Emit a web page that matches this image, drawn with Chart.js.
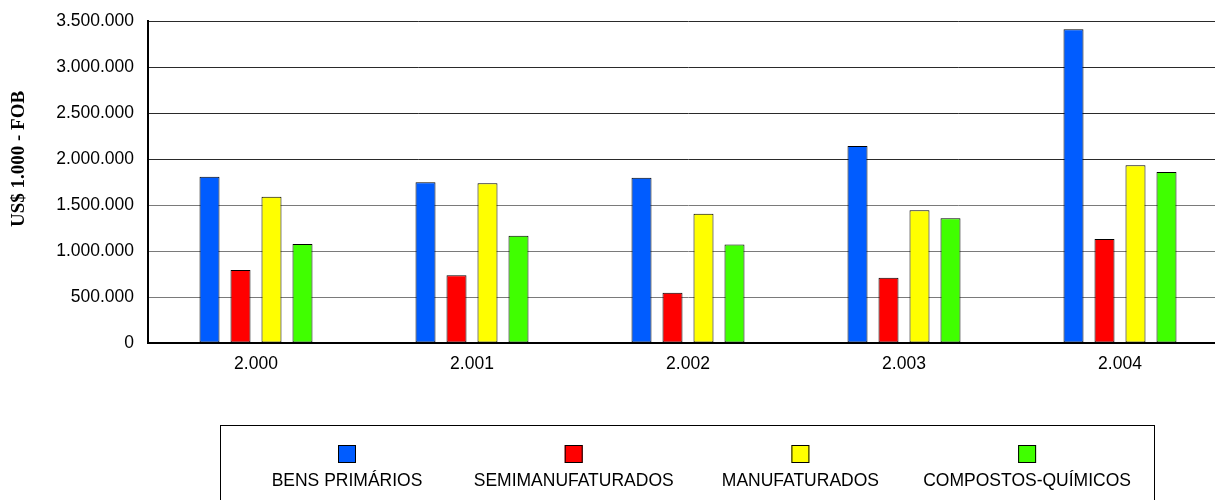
<!DOCTYPE html>
<html>
<head>
<meta charset="utf-8">
<script src="https://cdn.jsdelivr.net/npm/chart.js@4/dist/chart.umd.min.js"></script>
<style>
  html, body { margin: 0; padding: 0; background: #fff; overflow: hidden; }
  #wrap { width: 1230px; height: 500px; }
</style>
</head>
<body>
<div id="wrap"><canvas id="chart" width="1230" height="500"></canvas></div>
<script>
const years = ['2.000', '2.001', '2.002', '2.003', '2.004'];
const seriesNames = ['BENS PRIMÁRIOS', 'SEMIMANUFATURADOS', 'MANUFATURADOS', 'COMPOSTOS-QUÍMICOS'];
const bensPrimarios = [1808000, 1747000, 1797000, 2141000, 3410000];
const semimanufaturados = [793000, 736000, 547000, 710000, 1130000];
const manufaturados = [1590000, 1736000, 1406000, 1442000, 1931000];
const compostosQuimicos = [1076000, 1166000, 1072000, 1355000, 1859000];
const seriesColors = ['#005cff', '#ff0000', '#ffff00', '#40ff00'];
const yTicks = [0, 500000, 1000000, 1500000, 2000000, 2500000, 3000000, 3500000];
const yTitle = 'US$ 1.000 - FOB';

const sansFont = '"Liberation Sans", Arial, sans-serif';

function fmt(v) {
    return String(v).replace(/\B(?=(\d{3})+(?!\d))/g, '.');
}

// legend in a box below the plot + rotated y title (drawn by hand like the original)
const boxLegend = {
    id: 'boxLegend',
    afterDraw(chart) {
        const ctx = chart.ctx;
        ctx.save();
        ctx.strokeStyle = '#000';
        ctx.lineWidth = 1;
        ctx.strokeRect(220.5, 425.5, 934, 90);

        const step = 226.7;
        ctx.font = '17.5px ' + sansFont;
        ctx.textAlign = 'center';
        ctx.textBaseline = 'alphabetic';
        chart.data.datasets.forEach((ds, i) => {
            const cx = 347 + i * step;
            ctx.fillStyle = ds.backgroundColor;
            ctx.fillRect(cx - 9, 445, 18, 18);
            ctx.strokeRect(cx - 8.5, 445.5, 17, 17);
            ctx.fillStyle = '#000';
            ctx.fillText(ds.label, cx, 486);
        });

        ctx.translate(19, 159);
        ctx.rotate(-Math.PI / 2);
        ctx.font = 'bold 19px "Liberation Serif", "Times New Roman", serif';
        ctx.textBaseline = 'middle';
        ctx.fillText(yTitle, 0, 0);
        ctx.restore();
    }
};

const seriesData = [bensPrimarios, semimanufaturados, manufaturados, compostosQuimicos];

new Chart(document.getElementById('chart'), {
    type: 'bar',
    data: {
        labels: years,
        datasets: seriesNames.map((name, i) => ({
            label: name,
            data: seriesData[i],
            backgroundColor: seriesColors[i],
            borderColor: '#000',
            borderWidth: 1,
            borderSkipped: false,
            categoryPercentage: 0.574,
            barPercentage: 0.645
        }))
    },
    options: {
        responsive: false,
        animation: false,
        layout: { padding: { top: 21, right: 2, left: 0, bottom: 0 } },
        plugins: {
            legend: { display: false },
            tooltip: { enabled: false }
        },
        scales: {
            x: {
                grid: { display: false, drawTicks: false },
                border: { color: '#000', width: 2 },
                ticks: {
                    color: '#000',
                    padding: 11,
                    font: { family: sansFont, size: 17.5 }
                },
                afterFit(scale) { scale.height = 157; }
            },
            y: {
                min: 0,
                max: 3500000,
                afterBuildTicks(scale) { scale.ticks = yTicks.map(v => ({ value: v })); },
                grid: {
                    color: c => (c.tick && c.tick.value >= 2000000) ? '#2a2a2a' : '#7a7a7a',
                    lineWidth: 1,
                    drawTicks: false
                },
                border: { color: '#000', width: 2 },
                ticks: {
                    color: '#000',
                    padding: 14,
                    font: { family: sansFont, size: 17.5 },
                    callback: v => fmt(v)
                },
                afterFit(scale) {
                    scale.width = 148;
                    scale.paddingTop = 0;
                    scale.paddingBottom = 0;
                }
            }
        }
    },
    plugins: [boxLegend]
});
</script>
</body>
</html>
